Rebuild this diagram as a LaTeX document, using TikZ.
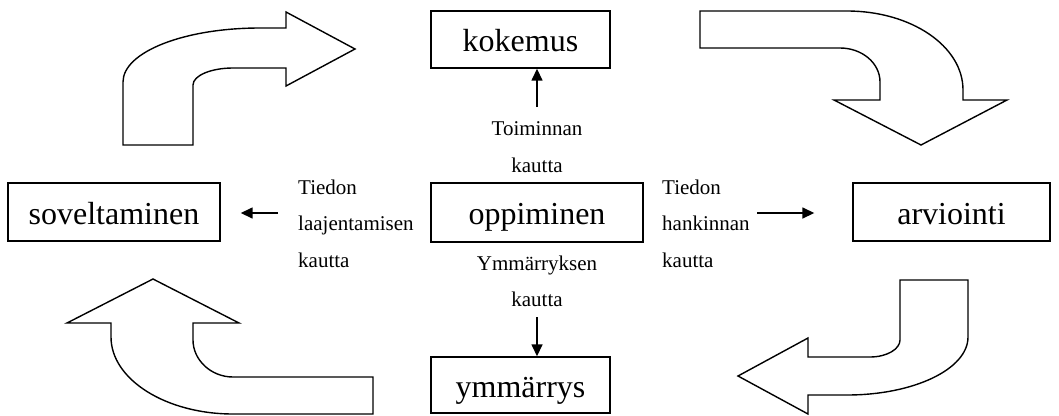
\documentclass[tikz,border=0pt]{standalone}
\usepackage{fontspec}
\setmainfont{Liberation Serif}
\usetikzlibrary{arrows.meta}

\tikzset{
  box/.style={draw, line width=1.4pt, inner sep=0pt, fill=white,
    font=\fontsize{32}{38}\selectfont, text height=26pt, text depth=2pt},
  lbl/.style={inner sep=0pt, font=\fontsize{21}{36.5}\selectfont},
  conn/.style={line width=1.5pt, -{Triangle[length=12pt,width=11pt]}},
  bigarrow/.style={draw, line width=1.4pt, line join=miter, fill=white}
}

\begin{document}
\begin{tikzpicture}[x=1pt, y=-1pt]
\useasboundingbox (0,0) rectangle (1059,415);

% concept boxes
\node[box, minimum width=179pt, minimum height=57pt] (kokemus) at (520.5,39.5) {kokemus};
\node[box, minimum width=212pt, minimum height=58pt] (soveltaminen) at (114,212) {soveltaminen};
\node[box, minimum width=212pt, minimum height=59pt] (oppiminen) at (537,212.5) {oppiminen};
\node[box, minimum width=197pt, minimum height=58pt] (arviointi) at (951.5,212) {arviointi};
\node[box, minimum width=179pt, minimum height=56pt] (ymmarrys) at (520.5,385) {ymmärrys};

% path labels
\node[lbl, align=center, anchor=north] (toiminta) at (537,121.4) {Toiminnan\\kautta};
\node[lbl, align=left, anchor=north west] (laajennus) at (298,179.7) {Tiedon\\laajentamisen\\kautta};
\node[lbl, align=left, anchor=north west] (hankinta) at (662,179.7) {Tiedon\\hankinnan\\kautta};
\node[lbl, align=center, anchor=north] (ymmarrysreitti) at (537,255.7) {Ymmärryksen\\kautta};

% short arrows
\coordinate (tk) at (537,107);
\draw[conn] (tk) -- (tk |- kokemus.south);
\coordinate (ls) at (278,213);
\draw[conn, shorten >=20pt] (ls) -- (ls -| soveltaminen.east);
\coordinate (rs) at (757,213);
\draw[conn, shorten >=38pt] (rs) -- (rs -| arviointi.west);
\coordinate (bs) at (537,317);
\draw[conn] (bs) -- (bs |- ymmarrys.north);

% curved block arrows of the cycle
\draw[bigarrow] (123,145) -- (123,82) .. controls (123,52) and (184,28) .. (260,28)
  -- (286,28) -- (286,12) -- (355,49) -- (286,86) -- (286,68) -- (233,68)
  .. controls (211,68) and (193,75.6) .. (193,85) -- (193,145) -- cycle;

\draw[bigarrow] (700,11) -- (847,11) .. controls (911,11) and (963,46) .. (963,90)
  -- (963,100) -- (1007,100) -- (921,145) -- (834,100) -- (880,100) -- (880,82)
  .. controls (880,63) and (862,48) .. (840,48) -- (700,48) -- cycle;

\draw[bigarrow] (968,280) -- (968,337) .. controls (968,369) and (914,395) .. (847,395)
  -- (808,395) -- (808,414) -- (738,376) -- (808,338) -- (808,357) -- (870,357)
  .. controls (887,357) and (900,349) .. (900,340) -- (900,280) -- cycle;

\draw[bigarrow] (153,279) -- (239,323) -- (193,323) -- (193,340)
  .. controls (193,360) and (211,377) .. (233,377) -- (373,377) -- (373,414)
  -- (233,414) .. controls (166,414) and (111,379.5) .. (111,337) -- (111,323)
  -- (67,323) -- cycle;
\end{tikzpicture}
\end{document}
